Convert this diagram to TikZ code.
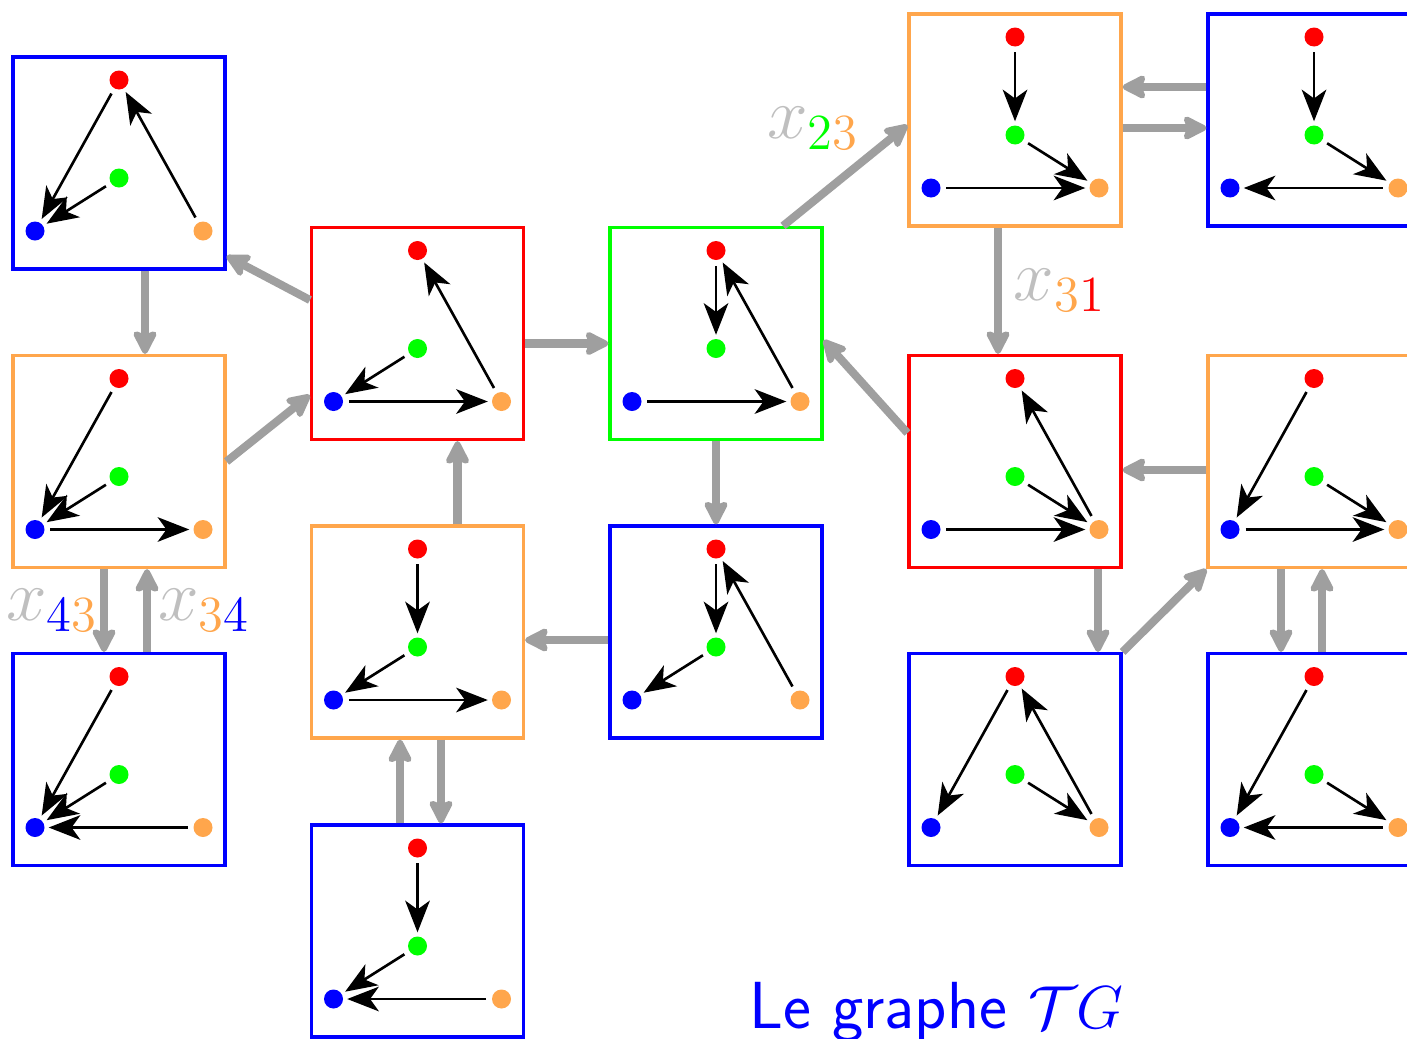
\documentclass[tikz,border=0pt]{standalone}
\usepackage{amsmath, amssymb}
\usepackage{tikz}
\usetikzlibrary{arrows.meta, calc}

\colorlet{orangec}{orange!70}
\colorlet{flgris}{gray!75}
\colorlet{lblgris}{gray!50}

\tikzset{
  etatbox/.style={draw, line width=0.9pt, minimum size=2.12cm, inner sep=0pt},
  sommet/.style={circle, inner sep=0pt, minimum size=0.19cm},
  fl/.style={-{Stealth[length=9pt, width=7pt, inset=2.5pt]}, line width=0.75pt,
    shorten <=1.5pt, shorten >=1pt},
  trans/.style={-{Stealth[length=8pt, width=8pt, inset=1.5pt, round]}, line width=2.3pt, draw=flgris},
  lbl/.style={font=\huge, text=lblgris},
}

% un etat : cadre + les quatre sommets
\newcommand{\etat}[4]{%
  \node[etatbox, draw=#4] (#1) at (#2,#3) {};
  \node[sommet, fill=red]     (#1r) at ($(#1)+(0,0.83)$) {};
  \node[sommet, fill=green]   (#1g) at ($(#1)+(0,-0.15)$) {};
  \node[sommet, fill=blue]    (#1b) at ($(#1)+(-0.84,-0.68)$) {};
  \node[sommet, fill=orangec] (#1o) at ($(#1)+(0.84,-0.68)$) {};
}

\begin{document}
\begin{tikzpicture}
  \useasboundingbox (0,0) rectangle (14.07,10.38);
  % Etats, colonne par colonne
  \etat{A}{1.19}{8.75}{blue}
  \etat{B}{1.19}{5.765}{orangec}
  \etat{C}{1.19}{2.785}{blue}
  \etat{D}{4.175}{7.045}{red}
  \etat{E}{4.175}{4.06}{orangec}
  \etat{F}{4.175}{1.07}{blue}
  \etat{G}{7.16}{7.045}{green}
  \etat{H}{7.16}{4.06}{blue}
  \etat{I}{10.15}{9.18}{orangec}
  \etat{J}{10.15}{5.765}{red}
  \etat{K}{10.15}{2.785}{blue}
  \etat{L}{13.14}{9.18}{blue}
  \etat{M}{13.14}{5.765}{orangec}
  \etat{N}{13.14}{2.785}{blue}
  % Orientations dans chaque etat
  \foreach \s/\t in {Ar/Ab, Ag/Ab, Ao/Ar, Br/Bb, Bg/Bb, Bb/Bo, Cr/Cb, Cg/Cb, Co/Cb,
      Dg/Db, Db/Do, Do/Dr, Er/Eg, Eg/Eb, Eb/Eo, Fr/Fg, Fg/Fb, Fo/Fb,
      Gr/Gg, Gb/Go, Go/Gr, Hr/Hg, Hg/Hb, Ho/Hr, Ir/Ig, Ig/Io, Ib/Io,
      Jg/Jo, Jb/Jo, Jo/Jr, Kr/Kb, Kg/Ko, Ko/Kr, Lr/Lg, Lg/Lo, Lo/Lb,
      Mr/Mb, Mg/Mo, Mb/Mo, Nr/Nb, Ng/No, No/Nb}
    \draw[fl] (\s) -- (\t);
  % Transitions
  \draw[trans] ([yshift=0.335cm]D.west) -- ([yshift=-0.93cm]A.east);
  \draw[trans] ([xshift=0.26cm]A.south) -- ([xshift=0.26cm]B.north);
  \draw[trans] (B.east) -- ([yshift=-0.615cm]D.west);
  \draw[trans] ([xshift=-0.15cm]B.south) -- node[left, lbl, inner sep=0.5pt]
    {$x_{\textcolor{blue}{4}\textcolor{orangec}{3}}$} ([xshift=-0.15cm]C.north);
  \draw[trans] ([xshift=0.28cm]C.north) -- node[right, lbl, inner sep=2pt]
    {$x_{\textcolor{orangec}{3}\textcolor{blue}{4}}$} ([xshift=0.28cm]B.south);
  \draw[trans] ([xshift=0.4cm]E.north) -- ([xshift=0.4cm]D.south);
  \draw[trans] ([yshift=-0.1cm]D.east) -- ([yshift=-0.1cm]G.west);
  \draw[trans] ([yshift=-0.08cm]H.west) -- ([yshift=-0.08cm]E.east);
  \draw[trans] ([xshift=-0.175cm]F.north) -- ([xshift=-0.175cm]E.south);
  \draw[trans] ([xshift=0.235cm]E.south) -- ([xshift=0.235cm]F.north);
  \draw[trans] (G.south) -- (H.north);
  \draw[trans] ([xshift=0.67cm]G.north) -- node[pos=0.6, above left, lbl, xshift=0.17cm]
    {$x_{\textcolor{green}{2}\textcolor{orangec}{3}}$} ([yshift=-0.05cm]I.west);
  \draw[trans] ([xshift=-0.17cm]I.south) -- node[right, lbl]
    {$x_{\textcolor{orangec}{3}\textcolor{red}{1}}$} ([xshift=-0.17cm]J.north);
  \draw[trans] ([yshift=0.285cm]J.west) -- ([yshift=-0.065cm]G.east);
  \draw[trans] ([yshift=0.33cm]L.west) -- ([yshift=0.33cm]I.east);
  \draw[trans] ([yshift=-0.08cm]I.east) -- ([yshift=-0.08cm]L.west);
  \draw[trans] ([yshift=-0.085cm]M.west) -- ([yshift=-0.085cm]J.east);
  \draw[trans] ([xshift=0.83cm]J.south) -- ([xshift=0.83cm]K.north);
  \draw[trans] (K.north east) -- (M.south west);
  \draw[trans] ([xshift=-0.33cm]M.south) -- ([xshift=-0.33cm]N.north);
  \draw[trans] ([xshift=0.08cm]N.north) -- ([xshift=0.08cm]M.south);
  % Titre
  \node[anchor=base, text=blue, font=\fontsize{18.95}{23}\selectfont\sffamily] (titre)
    at (9.365,0.10) {Le graphe $\mathcal{T}G$};
\end{tikzpicture}
\end{document}
